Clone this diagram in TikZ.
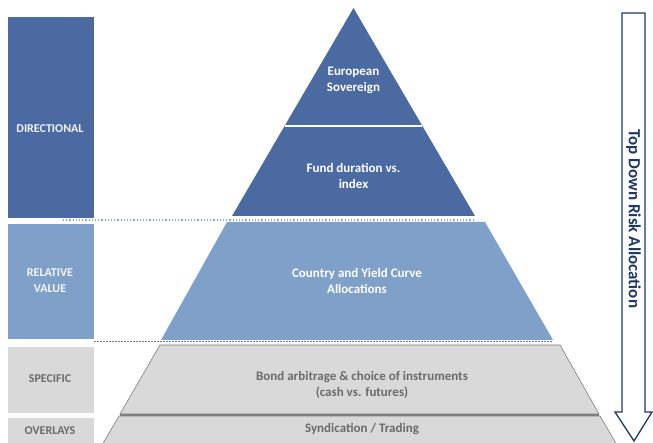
\documentclass[tikz,border=0pt]{standalone}
\usepackage{fontspec}
\setmainfont{Carlito}
\definecolor{dblue}{HTML}{4A6AA1}
\definecolor{lblue}{HTML}{7EA0C9}
\definecolor{lgray}{HTML}{D9D9D9}
\definecolor{tgray}{HTML}{6B6B6B}
\definecolor{ogray}{HTML}{7F7F7F}
\definecolor{navy}{HTML}{1F3864}
\definecolor{dotc}{HTML}{8FA3C3}
\begin{document}
\begin{tikzpicture}[x=1pt,y=-1pt,
  sidebox/.style={draw=white,line width=0.8pt,fill=#1},
  lbl/.style={font=\bfseries\fontsize{12}{16}\selectfont,align=center},
  pyr/.style={font=\bfseries\fontsize{13}{16}\selectfont,align=center}]
\useasboundingbox (0,0) rectangle (653,443);
\clip (0,0) rectangle (653,443);
% left boxes
\path[sidebox=dblue] (7,16) rectangle (94,218);
\path[sidebox=lblue] (7,223) rectangle (94,339);
\path[sidebox=lgray] (7,346) rectangle (94,413);
\path[sidebox=lgray] (7,417) rectangle (94,450);
\node[lbl,text=white!92!dblue] (ldir) at (50,129) {DIRECTIONAL};
\node[lbl,text=white!92!lblue] (lrel) at (50,281) {RELATIVE\\VALUE};
\node[lbl,text=tgray] (lspe) at (50,379) {SPECIFIC};
\node[lbl,text=tgray] (love) at (50,431) {OVERLAYS};
% pyramid: directional
\fill[dblue] (353.5,8) -- (475,216) -- (232,216) -- cycle;
\draw[white,line width=1.6pt] (285,126) -- (422,126);
\node[pyr,text=white] (euro) at (353.5,80) {European\\Sovereign};
\node[pyr,text=white] (fund) at (353.5,176) {Fund duration vs.\\index};
% relative value
\fill[lblue] (227,222) -- (485,222) -- (553,340) -- (161,340) -- cycle;
\node[pyr,text=white] (ctry) at (357,281) {Country and Yield Curve\\Allocations};
% specific
\draw[ogray,fill=lgray,line width=0.6pt] (160,345) -- (560,345) -- (599,414) -- (120,414) -- cycle;
\node[pyr,text=tgray] (bond) at (362,385) {Bond arbitrage \& choice of instruments\\(cash vs. futures)};
% overlays
\draw[ogray,fill=lgray,line width=0.6pt] (119,416) -- (600,416) -- (617,445) -- (102,445) -- cycle;
\draw[ogray,line width=1.2pt] (120,415) -- (599,415);
\node[pyr,text=tgray] (synd) at (362,429) {Syndication / Trading};
% separators
\coordinate (d1) at (63,220); \coordinate (d2) at (475,220);
\draw[dotc,line width=1.2pt,dotted] (d1) -- (d2);
\coordinate (e1) at (94,341.5); \coordinate (e2) at (553,341.5);
\draw[ogray,line width=0.6pt,dash pattern=on 2pt off 1pt] (e1) -- (e2);
% arrow
\draw[navy,fill=white,line width=1.3pt,line join=miter]
  (622,13) -- (645,13) -- (645,412) -- (652,412) -- (634,441) -- (615,412) -- (622,412) -- cycle;
\node[rotate=-90,font=\bfseries\fontsize{17}{20}\selectfont,text=navy] (tdra) at (633.5,219) {Top Down Risk Allocation};
\end{tikzpicture}
\end{document}
